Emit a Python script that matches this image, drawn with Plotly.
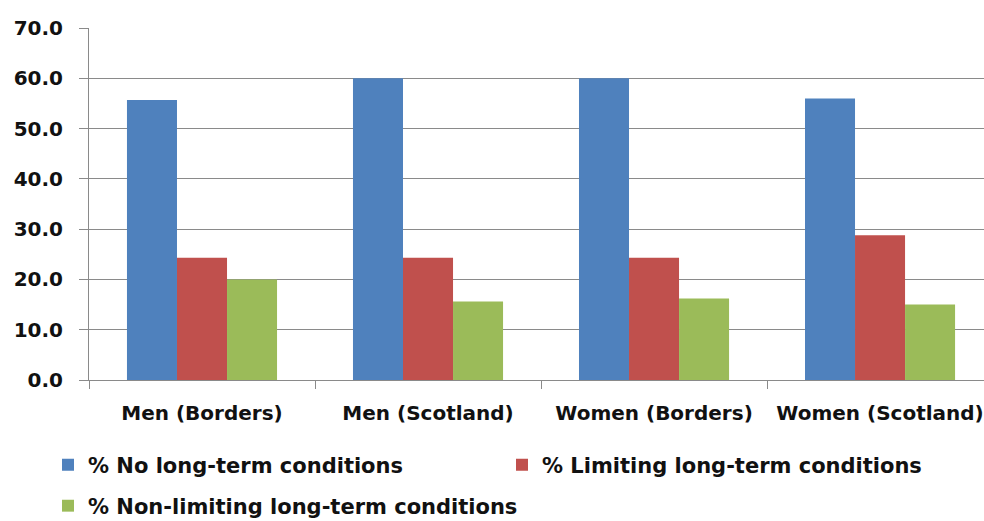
import plotly.graph_objects as go

categories = ["Men (Borders)", "Men (Scotland)", "Women (Borders)", "Women (Scotland)"]
no_ltc = [55.7, 60.0, 60.0, 56.0]
limiting_ltc = [24.3, 24.3, 24.3, 28.8]
nonlimiting_ltc = [20.0, 15.6, 16.2, 15.0]
series_names = ["% No long-term conditions", "% Limiting long-term conditions",
                "% Non-limiting long-term conditions"]
y_ticks = [0, 10, 20, 30, 40, 50, 60, 70]

FONT = "DejaVu Sans, Verdana, sans-serif"
GRID = "#8a8a8a"

fig = go.Figure()
fig.add_trace(go.Bar(x=categories, y=no_ltc, name=series_names[0],
                     marker=dict(color="#4F81BD", line=dict(width=0)), legend="legend"))
fig.add_trace(go.Bar(x=categories, y=limiting_ltc, name=series_names[1],
                     marker=dict(color="#C0504D", line=dict(width=0)), legend="legend2"))
fig.add_trace(go.Bar(x=categories, y=nonlimiting_ltc, name=series_names[2],
                     marker=dict(color="#9BBB59", line=dict(width=0)), legend="legend3"))

legend_common = dict(
    orientation="h", xref="container", yref="container",
    xanchor="left", yanchor="middle",
    font=dict(family=FONT, size=21, color="#111111", weight="bold"),
    bgcolor="rgba(0,0,0,0)", borderwidth=0, traceorder="normal",
)

fig.update_layout(
    width=984, height=521,
    margin=dict(l=89, r=0, t=28, b=141, autoexpand=False),
    paper_bgcolor="white", plot_bgcolor="white",
    barmode="group", bargap=0.336, bargroupgap=0,
    showlegend=True,
    legend=dict(x=48 / 984, y=1 - 465 / 521, **legend_common),
    legend2=dict(x=502 / 984, y=1 - 465 / 521, **legend_common),
    legend3=dict(x=48 / 984, y=1 - 506 / 521, **legend_common),
    xaxis=dict(
        range=[-0.5, 3.46], type="category", automargin=False,
        showline=True, linecolor=GRID, linewidth=1,
        ticks="outside", tickson="boundaries", ticklen=8, tickcolor=GRID,
        showgrid=False,
        tickfont=dict(family=FONT, size=20, color="#111111", weight="bold"),
        ticklabelstandoff=15,
    ),
    yaxis=dict(
        range=[0, 70], tickvals=y_ticks, tickformat=".1f", automargin=False,
        showline=True, linecolor=GRID, linewidth=1,
        ticks="outside", ticklen=9, tickcolor=GRID,
        showgrid=True, gridcolor=GRID, gridwidth=1, zeroline=False,
        tickfont=dict(family=FONT, size=20, color="#111111", weight="bold"),
        ticklabelstandoff=12,
    ),
)

fig.write_html("out.html",
               config={"displayModeBar": False},
               post_script="document.body.style.margin='0';document.body.style.overflow='hidden';")
